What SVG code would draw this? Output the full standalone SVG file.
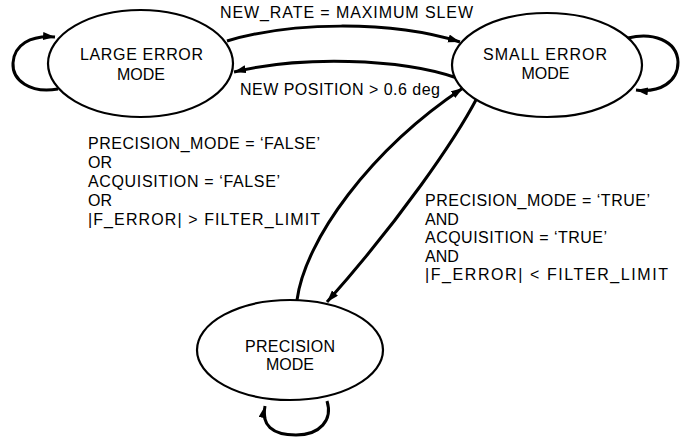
<svg xmlns="http://www.w3.org/2000/svg" width="687" height="439" viewBox="0 0 687 439">
  <style>
    .node { fill: #ffffff; stroke: #000000; stroke-width: 2.2; }
    .edge { fill: none; stroke: #000000; stroke-width: 3; }
    .lbl { font-family: "Liberation Sans", Arial, Helvetica, sans-serif; font-size: 16px; fill: #000000; }
    .nl { text-anchor: middle; }
  </style>
  <defs>
    <marker id="arr" markerUnits="userSpaceOnUse" markerWidth="14" markerHeight="10" refX="12" refY="4" orient="auto">
      <path d="M0,0 L12,4 L0,8 Z" fill="#000000"/>
    </marker>
  </defs>
  <rect x="0" y="0" width="687" height="439" fill="#ffffff"/>

  <g id="connectors">
    <path id="e-large-self" class="edge" d="M58 89 C30 94, 12 80, 13 63 C14 45, 30 35, 55 37" marker-end="url(#arr)"/>
    <path id="e-small-self" class="edge" d="M628 38 C652 32, 677 40, 678 62 C678 82, 660 93, 636 90" marker-end="url(#arr)"/>
    <path id="e-prec-self" class="edge" d="M327 401 C333 420, 320 435, 296 435 C272 435, 261 425, 265 406" marker-end="url(#arr)"/>
    <path id="e-large-small" class="edge" d="M227 41 C290 22, 390 20, 460 42" marker-end="url(#arr)"/>
    <path id="e-small-large" class="edge" d="M457 78 C400 58, 300 56, 234 72" marker-end="url(#arr)"/>
    <path id="e-prec-small" class="edge" d="M297 300 C305 240, 370 150, 463 88" marker-end="url(#arr)"/>
    <path id="e-small-prec" class="edge" d="M477 98 C455 140, 400 220, 327 302" marker-end="url(#arr)"/>
  </g>

  <g id="edge-labels">
    <text class="lbl" x="220" y="18" textLength="253" lengthAdjust="spacing">NEW_RATE = MAXIMUM SLEW</text>
    <text class="lbl" x="240" y="95" textLength="200" lengthAdjust="spacing">NEW POSITION &gt; 0.6 deg</text>
    <g id="label-to-small">
      <text class="lbl" x="88" y="149" textLength="232" lengthAdjust="spacing">PRECISION_MODE = ‘FALSE’</text>
      <text class="lbl" x="88" y="168">OR</text>
      <text class="lbl" x="88" y="187" textLength="192" lengthAdjust="spacing">ACQUISITION = ‘FALSE’</text>
      <text class="lbl" x="88" y="206">OR</text>
      <text class="lbl" x="88" y="225" textLength="232" lengthAdjust="spacing">|F_ERROR| &gt; FILTER_LIMIT</text>
    </g>
    <g id="label-to-precision">
      <text class="lbl" x="425" y="206" textLength="225" lengthAdjust="spacing">PRECISION_MODE = ‘TRUE’</text>
      <text class="lbl" x="425" y="224.5">AND</text>
      <text class="lbl" x="425" y="243" textLength="182" lengthAdjust="spacing">ACQUISITION = ‘TRUE’</text>
      <text class="lbl" x="425" y="261.5">AND</text>
      <text class="lbl" x="425" y="280" textLength="243" lengthAdjust="spacing">|F_ERROR| &lt; FILTER_LIMIT</text>
    </g>
  </g>

  <g id="node-large">
    <ellipse class="node" cx="140.5" cy="63.5" rx="92.5" ry="53.5"/>
    <text class="lbl" x="80" y="60" textLength="123" lengthAdjust="spacing">LARGE ERROR</text>
    <text class="lbl nl" x="141" y="80">MODE</text>
  </g>

  <g id="node-small">
    <ellipse class="node" cx="547" cy="65" rx="95" ry="52"/>
    <text class="lbl" x="483" y="60" textLength="124" lengthAdjust="spacing">SMALL ERROR</text>
    <text class="lbl nl" x="545.5" y="79">MODE</text>
  </g>

  <g id="node-precision">
    <ellipse class="node" cx="290" cy="350" rx="93" ry="50"/>
    <text class="lbl" x="245" y="352" textLength="90" lengthAdjust="spacing">PRECISION</text>
    <text class="lbl nl" x="290" y="370">MODE</text>
  </g>
</svg>
